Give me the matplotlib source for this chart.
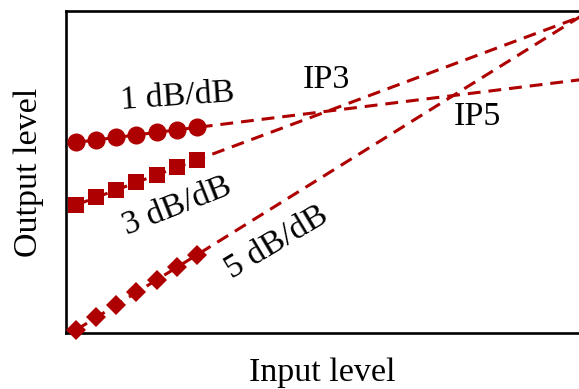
import matplotlib.pyplot as plt
import numpy as np

plt.rcParams['font.family'] = ['Liberation Serif', 'DejaVu Serif']

# input drive levels (dB) where the tones were measured
input_db = [0, 1, 2, 3, 4, 5, 6]
# measured output levels (dB) for fundamental, 3rd and 5th order products
fund_out = [75, 76, 77, 78, 79, 80, 81]
im3_out = [50, 53, 56, 59, 62, 65, 68]
im5_out = [0, 5, 10, 15, 20, 25, 30]

slopes = [1, 3, 5]
slope_labels = ['1 dB/dB', '3 dB/dB', '5 dB/dB']
markers = ['o', 's', 'D']
marker_sizes = [13, 11, 10.5]

red = '#AE0000'
fs = 24.5


def extrapolate(xs, ys, slope, x_end):
    # extend a measured series along its nominal slope
    x = np.array([xs[0], x_end])
    return x, ys[0] + slope * (x - xs[0])


fig = plt.figure(figsize=(5.79, 3.89), dpi=100)
ax = fig.add_axes([0.114, 0.144, 0.886, 0.828])

for ys, slope, mk, ms in zip([fund_out, im3_out, im5_out], slopes, markers, marker_sizes):
    xl, yl = extrapolate(input_db, ys, slope, 30)
    ax.plot(xl, yl, '--', color=red, lw=2.2, dashes=(4.2, 2.6))
    ax.plot(input_db, ys, mk, color=red, ms=ms, mew=0, clip_on=False, zorder=3)

ax.text(5.06, 93.2, slope_labels[0], fontsize=fs, rotation=4, ha='center', va='center')
ax.text(5.0, 49.6, slope_labels[1], fontsize=fs, rotation=21.5, ha='center', va='center')
ax.text(9.97, 34.8, slope_labels[2], fontsize=fs, rotation=31, ha='center', va='center')
ax.text(12.44, 100, 'IP3', fontsize=fs, ha='center', va='center')
ax.text(19.93, 85.2, 'IP5', fontsize=fs, ha='center', va='center')

ax.set_xlim(-0.5, 25.0)
ax.set_ylim(-1.2, 127.6)
ax.set_xticks([])
ax.set_yticks([])
ax.spines['right'].set_visible(False)
for s in ['left', 'top', 'bottom']:
    ax.spines[s].set_linewidth(1.9)

ax.set_xlabel('Input level', fontsize=fs, labelpad=18)
ax.set_ylabel('Output level', fontsize=fs, labelpad=16)

fig.savefig('out.png', dpi=100)
